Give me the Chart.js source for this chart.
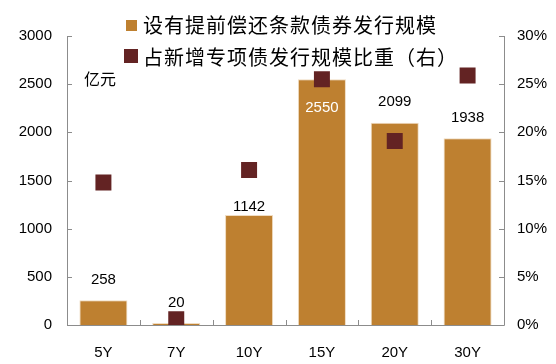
<!DOCTYPE html>
<html>
<head>
<meta charset="utf-8">
<script src="https://cdn.jsdelivr.net/npm/chart.js@4.4.0/dist/chart.umd.min.js"></script>
<style>
html,body{margin:0;padding:0;background:#fff;}
#wrap{width:556px;height:364px;position:relative;}
</style>
</head>
<body>
<div id="wrap"><canvas id="c" width="556" height="364"></canvas></div>
<script>
const categories = ['5Y', '7Y', '10Y', '15Y', '20Y', '30Y'];
const issueSize = [258, 20, 1142, 2550, 2099, 1938];
const shareOfNew = [0.148, 0.006, 0.161, 0.255, 0.191, 0.259];
const seriesNames = ['设有提前偿还条款债券发行规模', '占新增专项债发行规模比重（右）'];
const unitLabel = '亿元';

const BAR = '#BE8030';
const MARK = '#632323';
const FONT = '"Liberation Sans", Arial, sans-serif';
const CJK = '"Noto Sans CJK SC", sans-serif';

// label placement tweaks (pixels above bar top; negative = inside)
const labelOffsets = [20, 20, 8, -29, 21, 20];

const axisPlugin = {
  id: 'axisPlugin',
  afterDatasetsDraw(chart) {
    const ctx = chart.ctx, a = chart.chartArea;
    const x = chart.scales.x, y = chart.scales.y, y1 = chart.scales.y1;
    ctx.save();
    ctx.strokeStyle = '#8c8c8c';
    ctx.lineWidth = 1;
    ctx.beginPath();
    ctx.moveTo(a.left + 0.5, a.top); ctx.lineTo(a.left + 0.5, a.bottom + 0.5);
    ctx.lineTo(a.right + 0.5, a.bottom + 0.5); ctx.lineTo(a.right + 0.5, a.top);
    y.ticks.forEach(t => {
      const py = Math.round(y.getPixelForValue(t.value)) + 0.5;
      ctx.moveTo(a.left, py); ctx.lineTo(a.left + 5, py);
    });
    y1.ticks.forEach(t => {
      const py = Math.round(y1.getPixelForValue(t.value)) + 0.5;
      ctx.moveTo(a.right, py); ctx.lineTo(a.right - 5, py);
    });
    for (let i = 1; i < categories.length; i++) {
      const px = Math.round((x.getPixelForValue(i - 1) + x.getPixelForValue(i)) / 2) + 0.5;
      ctx.moveTo(px, a.bottom); ctx.lineTo(px, a.bottom - 5);
    }
    ctx.stroke();

    // data labels
    const meta = chart.getDatasetMeta(0);
    ctx.font = '15px ' + FONT;
    ctx.textAlign = 'center';
    ctx.textBaseline = 'middle';
    meta.data.forEach((bar, i) => {
      const off = labelOffsets[i];
      ctx.fillStyle = off < 0 ? '#ffffff' : '#000000';
      ctx.fillText(String(issueSize[i]), bar.x, bar.y - off);
    });

    // unit label
    ctx.font = '16px ' + CJK;
    ctx.fillStyle = '#000';
    ctx.textAlign = 'left';
    ctx.fillText(unitLabel, 84, 79);

    // legend
    ctx.font = '20px ' + CJK;
    try { ctx.letterSpacing = '1px'; } catch (e) {}
    ctx.fillStyle = BAR;
    ctx.fillRect(126, 20, 11, 11);
    ctx.fillStyle = '#000';
    ctx.fillText(chart.data.datasets[0].label, 143, 25);
    ctx.fillStyle = MARK;
    ctx.fillRect(124, 49, 14, 14);
    ctx.fillStyle = '#000';
    ctx.fillText(chart.data.datasets[1].label, 143, 57);
    ctx.restore();
  }
};

new Chart(document.getElementById('c'), {
  data: {
    labels: categories,
    datasets: [
      {
        type: 'bar',
        label: seriesNames[0],
        data: issueSize,
        backgroundColor: BAR,
        borderColor: '#F0DCC2',
        borderWidth: 1,
        barPercentage: 0.66,
        categoryPercentage: 1,
        yAxisID: 'y',
        order: 2
      },
      {
        type: 'line',
        label: seriesNames[1],
        data: shareOfNew,
        showLine: false,
        pointStyle: 'rect',
        pointRadius: 11.3,
        pointHoverRadius: 11.3,
        pointBackgroundColor: MARK,
        pointBorderColor: MARK,
        pointBorderWidth: 0,
        yAxisID: 'y1',
        order: 1
      }
    ]
  },
  options: {
    responsive: false,
    animation: false,
    devicePixelRatio: 1,
    layout: { padding: { top: 36, left: 0, right: 0, bottom: 0 } },
    plugins: { legend: { display: false }, tooltip: { enabled: false } },
    scales: {
      x: {
        grid: { display: false },
        border: { display: false },
        ticks: { font: { family: FONT, size: 15 }, color: '#000', padding: 11 },
        afterFit(s) { s.height = 39; }
      },
      y: {
        position: 'left',
        min: 0, max: 3000,
        grid: { display: false, drawTicks: false },
        border: { display: false },
        ticks: {
          stepSize: 500, font: { family: FONT, size: 15 }, color: '#000', padding: 15,
          callback: v => String(v)
        },
        afterFit(s) { s.width = 67; }
      },
      y1: {
        position: 'right',
        min: 0, max: 0.3,
        grid: { display: false, drawTicks: false },
        border: { display: false },
        ticks: {
          stepSize: 0.05,
          font: { family: FONT, size: 15 }, color: '#000', padding: 13,
          callback: v => Math.round(v * 100) + '%'
        },
        afterFit(s) { s.width = 52; }
      }
    }
  },
  plugins: [axisPlugin]
});
</script>
</body>
</html>
